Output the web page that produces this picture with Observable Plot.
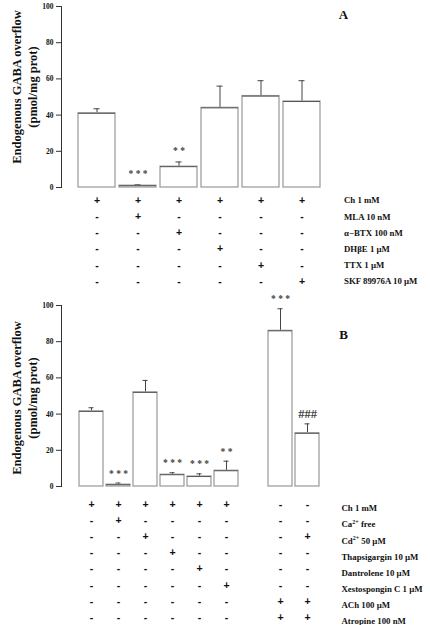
<!DOCTYPE html>
<html>
<head>
<meta charset="utf-8">
<script src="https://cdn.jsdelivr.net/npm/d3@7"></script>
<script src="https://cdn.jsdelivr.net/npm/@observablehq/plot@0.6"></script>
<style>
  html, body { margin: 0; padding: 0; background: #fff; }
  #chart { width: 430px; height: 625px; overflow: hidden; }
  #chart svg { display: block; }
</style>
</head>
<body>
<div id="chart"></div>
<script>
// ---------- Data ----------
const yTitleLines = ["Endogenous GABA overflow", "(pmol/mg prot)"];
const yTicks = [0, 20, 40, 60, 80, 100];

// Panel A
const catsA = ["a1", "a2", "a3", "a4", "a5", "a6"];
const slotsA = ["a1", "a2", "a3", "a4", "a5", "a6", "lbl"];
const meanA = [41, 1, 11.5, 44, 50.5, 47.5];
const semA = [2.5, 0.6, 2.6, 12, 8.5, 11.5];
const sigA = ["", "* * *", "* *", "", "", ""];
const rowLabelsA = ["Ch 1 mM", "MLA 10 nM", "α−BTX 100 nM", "DHβE 1 µM", "TTX 1 µM", "SKF 89976A 10 µM"];
const signsA = [
  "++++++",
  "-+----",
  "--+---",
  "---+--",
  "----+-",
  "-----+"
];

// Panel B
const catsB = ["b1", "b2", "b3", "b4", "b5", "b6", "b7", "b8"];
const slotsB = ["b1", "b2", "b3", "b4", "b5", "b6", "gap", "b7", "b8", "lbl"];
const meanB = [41.5, 1, 52, 6.5, 5.5, 8.7, 86, 29.4];
const semB = [2, 0.9, 6.6, 1.1, 1.5, 5.3, 12.2, 5.2];
const sigB = ["", "* * *", "", "* * *", "* * *", "* *", "* * *", "###"];
const rowLabelsB = ["Ch 1 mM", "Ca2+ free", "Cd2+ 50 µM", "Thapsigargin 10 µM", "Dantrolene 10 µM", "Xestospongin C 1 µM", "ACh 100 µM", "Atropine 100 nM"];
const signsB = [
  "++++++--",
  "-+------",
  "--+----+",
  "---+----",
  "----+---",
  "-----+--",
  "------++",
  "------++"
];

// ---------- Drawing ----------
function panel(cfg) {
  const {cats, slots, mean, sem, sig, rowLabels, signs, letter} = cfg;
  const bars = cats.map((c, i) => ({c, v: mean[i], top: mean[i] + sem[i], sig: sig[i]}));
  const rowMarks = [];
  rowLabels.forEach((lab, i) => {
    const cells = cats.map((c, j) => ({c, s: signs[i][j]}));
    const dy = cfg.rowDy0 + cfg.rowStep * i;
    rowMarks.push(Plot.text(cells, {
      x: "c", frameAnchor: "bottom", text: "s", dy,
      lineAnchor: "middle", textAnchor: "middle",
      fontFamily: "Liberation Sans", fontWeight: "bold", fontSize: 10.5, fill: "#111"
    }));
    rowMarks.push(Plot.text([lab], {
      x: () => "lbl", frameAnchor: "bottom", text: d => d,
      dy: dy + cfg.labelDyExtra, dx: cfg.labelDx,
      lineAnchor: "middle", textAnchor: "start",
      fontFamily: "Liberation Serif", fontWeight: "bold", fontSize: 8.8, fill: "#111"
    }));
  });

  const svg = Plot.plot({
    width: 430,
    height: cfg.height,
    marginTop: cfg.marginTop,
    marginBottom: cfg.marginBottom,
    marginLeft: 61,
    marginRight: 0,
    style: {fontFamily: "Liberation Serif", fontWeight: "bold", background: "#fff", overflow: "visible", color: "#111"},
    x: {type: "band", domain: slots, range: cfg.xRange, paddingInner: cfg.padInner, paddingOuter: 0, align: 0.5, axis: null},
    y: {domain: [0, 100], label: null, axis: null},
    marks: [
      Plot.frame({anchor: "left", stroke: "#333"}),
      Plot.axisY({ticks: yTicks, tickSize: 5, tickPadding: 3, fontSize: 7.5, fontWeight: "bold", stroke: "#333", label: null}),
      Plot.text([yTitleLines.join("\n")], {
        frameAnchor: "left", rotate: -90, dx: -38, dy: cfg.titleDy,
        textAnchor: "middle", lineAnchor: "middle", lineHeight: 1.33,
        fontSize: 12.5, fontWeight: "bold", fill: "#111"
      }),
      Plot.ruleX(bars, {x: "c", y1: "v", y2: "top", stroke: "#444", strokeWidth: 1}),
      Plot.tickY(bars, {x: "c", y: "top", stroke: "#444", insetLeft: cfg.capInset, insetRight: cfg.capInset}),
      Plot.barY(bars, {x: "c", y: "v", fill: "#fff", stroke: "#a0a0a0", strokeWidth: 1.3}),
      Plot.tickY(bars, {x: "c", y: "v", stroke: "#555", strokeWidth: 1}),
      Plot.text(bars, {x: "c", y: "top", text: "sig", dy: cfg.sigDy,
        lineAnchor: "middle",
        fontFamily: "Liberation Serif", fontWeight: "bold",
        fontSize: d => d.sig === "###" ? 12.5 : 9.5,
        fill: "#444"}),
      Plot.text([letter], {frameAnchor: "top-right", dx: cfg.letterDx, dy: cfg.letterDy, text: d => d,
        textAnchor: "middle", lineAnchor: "middle", fontSize: 13, fontWeight: "bold", fill: "#111"}),
      ...rowMarks
    ]
  });

  // superscripts for ion labels
  d3.select(svg).selectAll("text").each(function () {
    const t = this.textContent;
    const m = /^(Ca|Cd)2\+(.*)$/.exec(t);
    if (m && this.childElementCount === 0) {
      const el = d3.select(this);
      el.text(null);
      el.append("tspan").text(m[1]);
      el.append("tspan").attr("dy", "-3.5").attr("font-size", 6).text("2+");
      el.append("tspan").attr("dy", "3.5").text(m[2]);
    }
  });
  return svg;
}

const root = document.getElementById("chart");
root.appendChild(panel({
  cats: catsA, slots: slotsA, mean: meanA, sem: semA, sig: sigA,
  rowLabels: rowLabelsA, signs: signsA, letter: "A",
  height: 293, marginTop: 6, marginBottom: 106,
  xRange: [76, 362], padInner: 0.108, capInset: 15.5,
  rowDy0: 13, rowStep: 16.2, labelDx: 1, labelDyExtra: 0,
  titleDy: -10, sigDy: -11, letterDx: -87, letterDy: 8
}));
root.appendChild(panel({
  cats: catsB, slots: slotsB, mean: meanB, sem: semB, sig: sigB,
  rowLabels: rowLabelsB, signs: signsB, letter: "B",
  height: 332, marginTop: 12, marginBottom: 139,
  xRange: [76, 350.3], padInner: 0.0975, capInset: 9.5,
  rowDy0: 18, rowStep: 16.15, labelDx: 7, labelDyExtra: 4,
  titleDy: 2, sigDy: -9.5, letterDx: -87, letterDy: 29
}));
</script>
</body>
</html>
